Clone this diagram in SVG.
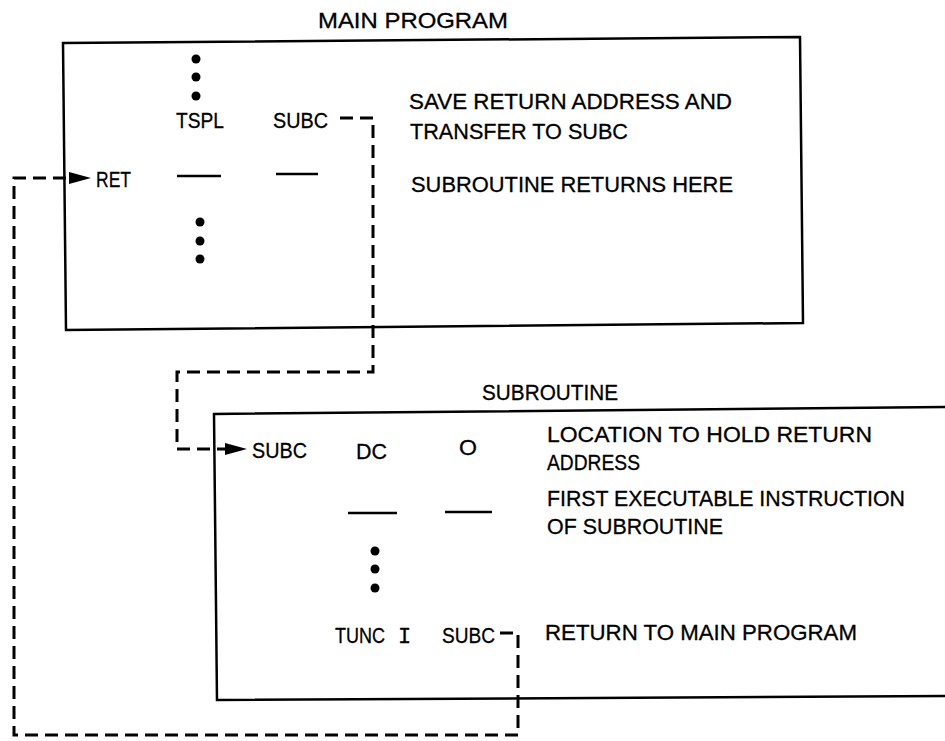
<svg xmlns="http://www.w3.org/2000/svg" width="945" height="741" viewBox="0 0 945 741">
<style>
.t{font-family:"Liberation Sans",Arial,sans-serif;font-size:22px;fill:#000;stroke:#000;stroke-width:0.3}
.box{fill:none;stroke:#000;stroke-width:2.5;stroke-linejoin:miter}
.dash{fill:none;stroke:#000;stroke-width:3;stroke-dasharray:13 7}
.blank{stroke:#000;stroke-width:2.5}
.dot{fill:#000}
</style>
<defs>
<marker id="ah" markerWidth="22" markerHeight="12" refX="8" refY="6" orient="auto" markerUnits="userSpaceOnUse">
<path d="M0,0 L22,6 L0,12 z" fill="#000"/>
</marker>
</defs>
<rect width="945" height="741" fill="#fff"/>
<g id="main-program">
<text class="t" x="318" y="28" textLength="190" lengthAdjust="spacingAndGlyphs">MAIN PROGRAM</text>
<polygon class="box" points="63,43 800,37 803,323 66,330"/>
<circle class="dot" cx="196" cy="59" r="4.5"/>
<circle class="dot" cx="196" cy="77" r="4.5"/>
<circle class="dot" cx="196" cy="96" r="4.5"/>
<text class="t" x="176" y="128" textLength="48" lengthAdjust="spacingAndGlyphs">TSPL</text>
<text class="t" x="273" y="128" textLength="55" lengthAdjust="spacingAndGlyphs">SUBC</text>
<text class="t" x="96" y="187" textLength="35" lengthAdjust="spacingAndGlyphs">RET</text>
<line class="blank" x1="177" y1="176" x2="221" y2="176"/>
<line class="blank" x1="276" y1="174" x2="318" y2="174"/>
<circle class="dot" cx="200" cy="222" r="4.5"/>
<circle class="dot" cx="200" cy="241" r="4.5"/>
<circle class="dot" cx="200" cy="259" r="4.5"/>
<text class="t" x="409" y="109" textLength="323" lengthAdjust="spacingAndGlyphs">SAVE RETURN ADDRESS AND</text>
<text class="t" x="410" y="139" textLength="218" lengthAdjust="spacingAndGlyphs">TRANSFER TO SUBC</text>
<text class="t" x="411" y="192" textLength="322" lengthAdjust="spacingAndGlyphs">SUBROUTINE RETURNS HERE</text>
</g>
<g id="subroutine">
<text class="t" x="482" y="400" textLength="136" lengthAdjust="spacingAndGlyphs">SUBROUTINE</text>
<path class="box" d="M945,407 L214,414 L217,700 L945,696"/>
<text class="t" x="252" y="458" textLength="55" lengthAdjust="spacingAndGlyphs">SUBC</text>
<text class="t" x="356" y="459" textLength="31" lengthAdjust="spacingAndGlyphs">DC</text>
<text class="t" x="459" y="455" textLength="18" lengthAdjust="spacingAndGlyphs">O</text>
<line class="blank" x1="348" y1="513" x2="397" y2="513"/>
<line class="blank" x1="445" y1="512" x2="492" y2="512"/>
<circle class="dot" cx="375" cy="551" r="4.5"/>
<circle class="dot" cx="375" cy="569" r="4.5"/>
<circle class="dot" cx="375" cy="588" r="4.5"/>
<text class="t" y="643" lengthAdjust="spacingAndGlyphs"><tspan x="335" textLength="50" lengthAdjust="spacingAndGlyphs">TUNC</tspan> <tspan x="398" style="font-family:'Liberation Mono',monospace">I</tspan> <tspan x="442" textLength="53" lengthAdjust="spacingAndGlyphs">SUBC</tspan></text>
<text class="t" x="547" y="442" textLength="325" lengthAdjust="spacingAndGlyphs">LOCATION TO HOLD RETURN</text>
<text class="t" x="547" y="470" textLength="93" lengthAdjust="spacingAndGlyphs">ADDRESS</text>
<text class="t" x="547" y="506" textLength="358" lengthAdjust="spacingAndGlyphs">FIRST EXECUTABLE INSTRUCTION</text>
<text class="t" x="547" y="534" textLength="176" lengthAdjust="spacingAndGlyphs">OF SUBROUTINE</text>
<text class="t" x="545" y="640" textLength="312" lengthAdjust="spacingAndGlyphs">RETURN TO MAIN PROGRAM</text>
</g>
<g id="connectors">
<path class="dash" d="M340,118 H373 V372 H177 V449 H233" marker-end="url(#ah)"/>
<path class="dash" d="M500,633 H518 V735 H14 V178 H77" marker-end="url(#ah)"/>
</g>
</svg>
